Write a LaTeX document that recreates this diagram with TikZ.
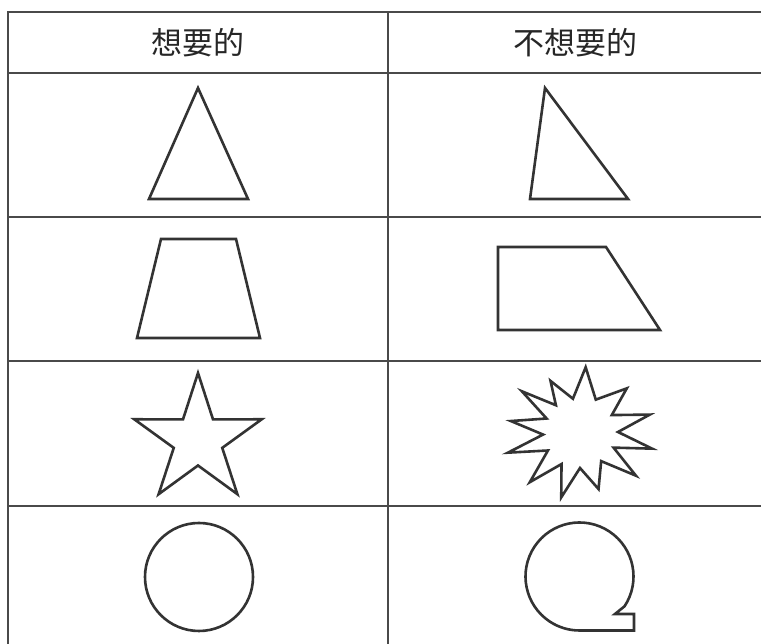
\documentclass[tikz,border=0pt]{standalone}
\usepackage{fontspec}
\newfontfamily\cjk{Noto Sans CJK TC}
\usetikzlibrary{calc}
\definecolor{gridgray}{HTML}{4A4A4A}
\definecolor{inkgray}{HTML}{333333}
\tikzset{
    grid line/.style = {draw=gridgray, line width=1.7pt},
    shp/.style = {draw=inkgray, line width=2.6pt, line join=miter},
    head/.style = {font=\cjk\fontsize{31}{33}\selectfont, text=black!85, inner sep=0pt}
}

\begin{document}
\begin{tikzpicture}[x=1pt, y=1pt]
\useasboundingbox (0,0) rectangle (761,644);
\fill[white] (0,0) rectangle (761,644);

% Table rules
\draw[grid line] (761,632) -- (8,632) -- (8,0);
\draw[grid line] (388,632) -- (388,0);
\draw[grid line] (8,571) -- (761,571);
\draw[grid line] (8,427) -- (761,427);
\draw[grid line] (8,283) -- (761,283);
\draw[grid line] (8,138) -- (761,138);

% Header
\node[head] (want) at (198,601) {想要的};
\node[head] (notwant) at (575,601) {不想要的};

% Row 1: triangles
\draw[shp] (198,556) -- (248,445) -- (149,445) -- cycle;
\draw[shp] (545,556) -- (628,445) -- (530,445) -- cycle;

% Row 2: trapezoids
\draw[shp] (161,405) -- (236,405) -- (260,306) -- (137,306) -- cycle;
\draw[shp] (498,397) -- (606,397) -- (660,314) -- (498,314) -- cycle;

% Row 3: star and burst
\coordinate (starc) at (198,204);
\draw[shp] ($(starc)+(90:67)$)
    \foreach \a/\r in {54/25.5, 18/67, -18/25.5, -54/67, -90/25.5, -126/67,
        -162/25.5, -198/67, -234/25.5}
    { -- ($(starc)+(\a:\r)$) } -- cycle;
\coordinate (burstc) at (580,212);
\draw[shp] ($(burstc)+(85:65)$)
    \foreach \a/\r in {64/36, 43/64, 28/36, 14/72, 0/38, -13/74, -25/37, -38/71, -54/36,
        -72/60, -90/36, -106/68, -120/37, -135/71, -150/37, -164/75,
        -176/37, -189/70, -202/36, -215/71, -228/36, -240/59, -258/34}
    { -- ($(burstc)+(\a:\r)$) } -- cycle;

% Row 4: circle and tailed circle
\coordinate (circc) at (199,67);
\draw[shp] (circc) circle[radius=54];
\coordinate (qc) at (579.5,67.5);
\draw[shp] (579.5,13.5) -- (634,13.5) -- (634,30) -- (615,30) -- ($(qc)+(-33.5:54)$)
    arc[start angle=-33.5, end angle=270, radius=54] -- cycle;
\end{tikzpicture}
\end{document}
